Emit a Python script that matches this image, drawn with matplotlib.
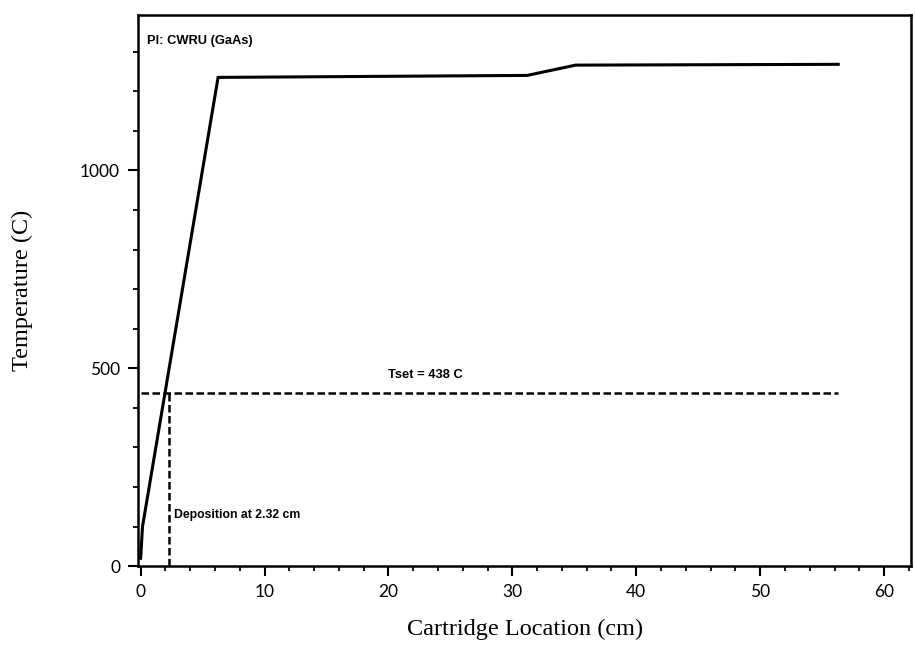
import matplotlib
matplotlib.use("Agg")
import matplotlib.pyplot as plt
from matplotlib.ticker import MultipleLocator

# Data
location_cm = [0.0, 0.15, 6.25, 31.2, 35.1, 56.3]
temperature_c = [20, 100, 1235, 1240, 1266, 1268]
t_set = 438
deposition_cm = 2.32
x_ticks = [0, 10, 20, 30, 40, 50, 60]
y_ticks = [0, 500, 1000]

fig = plt.figure(figsize=(9.15, 6.63), dpi=100)
ax = fig.add_axes([0.151, 0.146, 0.845, 0.831])

ax.plot(location_cm, temperature_c, color="black", lw=2.2, solid_joinstyle="miter")
ax.plot([0, location_cm[-1]], [t_set, t_set], color="black", lw=1.8,
        dashes=(3.0, 1.4))
ax.plot([deposition_cm, deposition_cm], [0, t_set], color="black", lw=1.8,
        dashes=(3.0, 1.4))

ax.set_xlim(-0.2, 62.2)
ax.set_ylim(0, 1392)
ax.set_xticks(x_ticks)
ax.set_yticks(y_ticks)
ax.xaxis.set_minor_locator(MultipleLocator(2))
ax.yaxis.set_minor_locator(MultipleLocator(100))

tick_font = dict(family="Lato", size=12.5)
ax.set_xticklabels([str(v) for v in x_ticks], **tick_font)
ax.set_yticklabels([str(v) for v in y_ticks], **tick_font)
ax.tick_params(axis="both", which="major", direction="out", length=7, width=1.5,
               color="black", pad=6)
ax.tick_params(axis="both", which="minor", direction="out", length=3.5, width=1.3,
               color="black")
for s in ax.spines.values():
    s.set_linewidth(1.8)

ax.set_xlabel("Cartridge Location (cm)", family="Liberation Serif", size=17.5,
              labelpad=13)
ax.set_ylabel("Temperature (C)", family="Liberation Serif", size=17.5,
              labelpad=34)

small = dict(family="Liberation Sans", weight="bold", size=9.3, color="black")
ax.text(0.5, 1327, "Pl: CWRU (GaAs)", ha="left", va="center", **small)
ax.text(23.0, 483, "Tset = 438 C", ha="center", va="center", **small)
ax.text(2.7, 129, "Deposition at 2.32 cm", ha="left", va="center",
        **dict(small, size=8.8))

fig.savefig("out.png", dpi=100)
